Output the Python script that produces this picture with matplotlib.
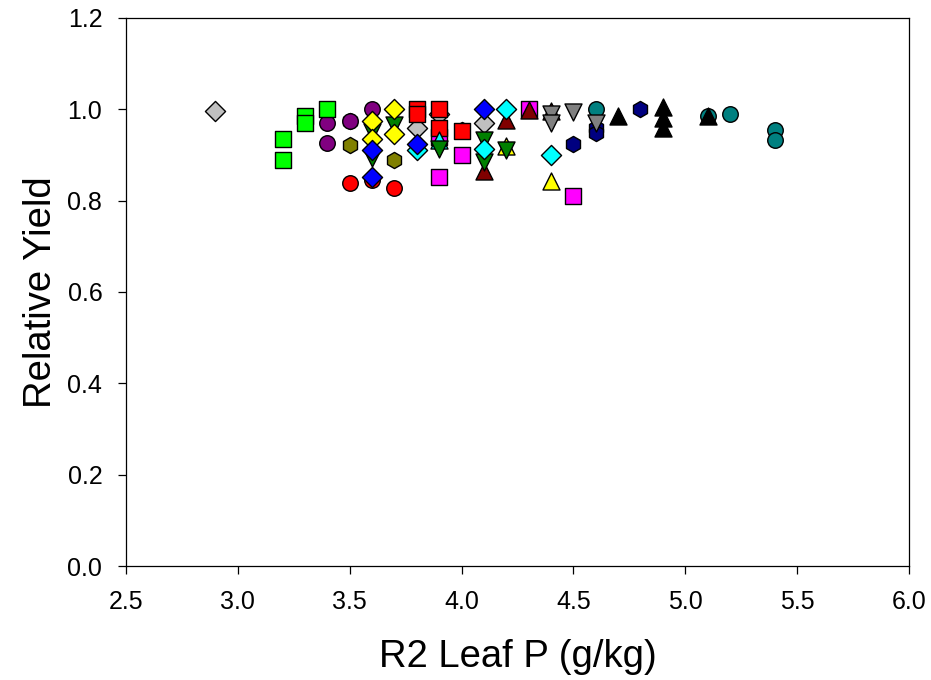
import matplotlib
matplotlib.use('Agg')
import matplotlib.pyplot as plt

plt.rcParams['font.family'] = ['Liberation Sans', 'DejaVu Sans']

# each series: leaf P (g/kg) and relative yield
teal_circle_x = [4.6, 5.1, 5.2, 5.4, 5.4]
teal_circle_y = [1.0, 0.986, 0.99, 0.955, 0.932]

magenta_square_x = [3.9, 3.9, 4.0, 4.3, 4.5]
magenta_square_y = [0.94, 0.851, 0.901, 1.0, 0.81]

navy_hex_x = [3.5, 4.0, 4.5, 4.6, 4.6, 4.8]
navy_hex_y = [0.975, 0.955, 0.925, 0.96, 0.948, 1.0]

purple_circle_x = [3.4, 3.4, 3.5, 3.6]
purple_circle_y = [0.969, 0.927, 0.975, 1.0]

olive_hex_x = [3.5, 3.7]
olive_hex_y = [0.922, 0.888]

red_circle_x = [3.5, 3.6, 3.7]
red_circle_y = [0.838, 0.845, 0.827]

green_square_x = [3.2, 3.2, 3.3, 3.3, 3.4]
green_square_y = [0.934, 0.89, 0.986, 0.971, 1.0]

gray_diamond_x = [2.9, 3.8, 3.9, 4.1]
gray_diamond_y = [0.997, 0.96, 0.99, 0.969]

red_square_x = [3.8, 3.8, 3.9, 3.9, 4.0]
red_square_y = [1.0, 0.99, 1.0, 0.958, 0.953]

cyan_tri_x = [3.9]
cyan_tri_y = [0.932]

darkred_tri_x = [4.1, 4.2, 4.3, 4.4]
darkred_tri_y = [0.866, 0.977, 0.998, 0.997]

yellow_tri_x = [4.2, 4.4]
yellow_tri_y = [0.92, 0.844]

green_vtri_x = [3.6, 3.6, 3.7, 3.9, 4.1, 4.1, 4.2]
green_vtri_y = [0.95, 0.893, 0.965, 0.914, 0.932, 0.884, 0.91]

gray_vtri_x = [4.4, 4.4, 4.5, 4.6]
gray_vtri_y = [0.99, 0.969, 0.993, 0.969]

cyan_diamond_x = [3.8, 4.1, 4.2, 4.4]
cyan_diamond_y = [0.91, 0.914, 1.0, 0.901]

yellow_diamond_x = [3.6, 3.6, 3.7, 3.7]
yellow_diamond_y = [0.975, 0.936, 1.0, 0.947]

blue_diamond_x = [3.6, 3.6, 3.8, 4.1]
blue_diamond_y = [0.91, 0.851, 0.925, 1.0]

black_tri_x = [4.7, 4.9, 4.9, 4.9, 5.1]
black_tri_y = [0.986, 1.004, 0.982, 0.958, 0.986]

series = [
    (teal_circle_x, teal_circle_y, 'o', '#008080', 125),
    (magenta_square_x, magenta_square_y, 's', '#FF00FF', 120),
    (navy_hex_x, navy_hex_y, 'h', '#000080', 135),
    (purple_circle_x, purple_circle_y, 'o', '#800080', 125),
    (olive_hex_x, olive_hex_y, 'h', '#808000', 135),
    (red_circle_x, red_circle_y, 'o', '#FF0000', 125),
    (green_square_x, green_square_y, 's', '#00FF00', 120),
    (gray_diamond_x, gray_diamond_y, 'D', '#C0C0C0', 105),
    (red_square_x, red_square_y, 's', '#FF0000', 120),
    (cyan_tri_x, cyan_tri_y, '^', '#00FFFF', 150),
    (darkred_tri_x, darkred_tri_y, '^', '#800000', 150),
    (yellow_tri_x, yellow_tri_y, '^', '#FFFF00', 150),
    (green_vtri_x, green_vtri_y, 'v', '#008000', 150),
    (gray_vtri_x, gray_vtri_y, 'v', '#808080', 150),
    (cyan_diamond_x, cyan_diamond_y, 'D', '#00FFFF', 105),
    (yellow_diamond_x, yellow_diamond_y, 'D', '#FFFF00', 105),
    (blue_diamond_x, blue_diamond_y, 'D', '#0000FF', 105),
    (black_tri_x, black_tri_y, '^', '#000000', 150),
]

fig = plt.figure(figsize=(9.31, 6.8), dpi=100)
ax = fig.add_axes([0.1353, 0.1676, 0.841, 0.806])

for i, (xs, ys, m, c, s) in enumerate(series):
    ax.scatter(xs, ys, marker=m, s=s, c=c, edgecolors='black',
               linewidths=1.0, zorder=3 + i, clip_on=False)

ax.set_xlim(2.5, 6.0)
ax.set_ylim(0.0, 1.2)
ax.set_xticks([2.5, 3.0, 3.5, 4.0, 4.5, 5.0, 5.5, 6.0])
ax.set_yticks([0.0, 0.2, 0.4, 0.6, 0.8, 1.0, 1.2])
ax.xaxis.set_major_formatter(matplotlib.ticker.FormatStrFormatter('%.1f'))
ax.yaxis.set_major_formatter(matplotlib.ticker.FormatStrFormatter('%.1f'))

for sp in ax.spines.values():
    sp.set_linewidth(0.9)
ax.tick_params(direction='out', length=6, width=0.9, labelsize=18)
ax.tick_params(axis='x', pad=11)
ax.tick_params(axis='y', pad=11)

ax.set_xlabel('R2 Leaf P (g/kg)', fontsize=27.5, labelpad=18)
ax.set_ylabel('Relative Yield', fontsize=27.5, labelpad=6)

fig.savefig('out.png', dpi=100)
